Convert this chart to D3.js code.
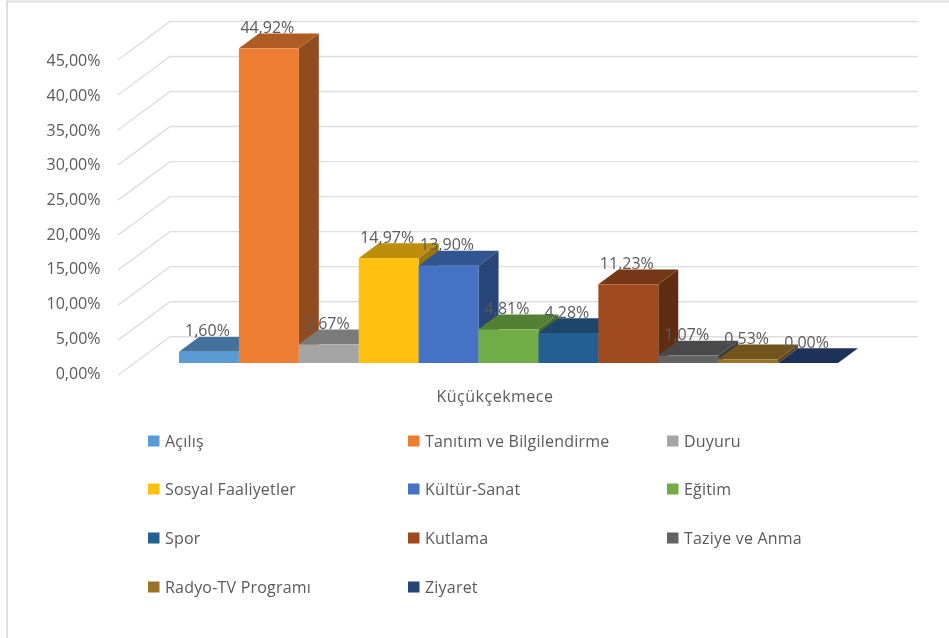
<!DOCTYPE html>
<html lang="tr"><head><meta charset="utf-8">
<script src="https://cdnjs.cloudflare.com/ajax/libs/d3/7.8.5/d3.min.js"></script>
<style>
html,body{margin:0;padding:0;background:#fff}
svg{display:block;filter:blur(0.45px)}
text{font-family:"Open Sans",sans-serif;fill:#5a5a5a}
</style></head><body><svg id="c" width="949" height="638"></svg>
<script>
const categories=["Açılış","Tanıtım ve Bilgilendirme","Duyuru","Sosyal Faaliyetler","Kültür-Sanat","Eğitim","Spor","Kutlama","Taziye ve Anma","Radyo-TV Programı","Ziyaret"];
const values=[1.60,44.92,2.67,14.97,13.90,4.81,4.28,11.23,1.07,0.53,0.00];
const colors=["#5B9BD5","#ED7D31","#A5A5A5","#FFC010","#4472C4","#70AD47","#255E91","#9E4A1E","#636363","#997326","#264478"];
const ticks=[0,5,10,15,20,25,30,35,40,45];
const groupLabel="Küçükçekmece";

const svg=d3.select("#c");
const fmt=v=>v.toFixed(2).replace(".",",")+"%";
const W={left:179,right:838,base:363,dx:20,dy:-14.8};
const y=d3.scaleLinear().domain([0,45]).range([W.base,W.base-315.2]);
const x=d3.scaleBand().domain(categories).range([W.left,W.right]);

// frame
svg.append("path").attr("d","M7,638V1.5H949").attr("fill","none").attr("stroke","#dedede").attr("stroke-width",2);

// back wall grid and side wall lines
const gridTop=v=>y(v)-26.3;
const grid=svg.append("g").attr("fill","none").attr("stroke","#dedede").attr("stroke-width",1.4);
grid.selectAll("path").data(ticks).join("path")
 .attr("d",d=>{
   const yb=gridTop(d), yf=yb+38.5;
   return `M118,${yf}L170,${yb}H918`;
 });

// y axis
const axis=d3.axisLeft(d3.scaleLinear().domain([0,45]).range([372.5,60])).tickValues(ticks).tickFormat(fmt).tickSize(0).tickPadding(0);
const ax=svg.append("g").attr("transform","translate(100.5,0)").call(axis);
ax.select(".domain").remove();
ax.selectAll("text").attr("font-size",16).attr("fill","#5f5f5f").style("font-family",'"Open Sans",sans-serif').attr("dy","0.35em");

// bars, painted left to right
const bars=svg.append("g").selectAll("g").data(categories).join("g");
bars.each(function(c,i){
  const g=d3.select(this), x0=x(c), x1=x0+x.bandwidth(), top=y(values[i]), base=W.base, col=d3.color(colors[i]);
  const {dx,dy}=W;
  g.append("path").attr("d",`M${x1},${top}L${x1+dx},${top+dy}V${base+dy}L${x1},${base}Z`).attr("fill",col.darker(1.4));
  g.append("path").attr("d",`M${x0},${top}L${x0+dx},${top+dy}H${x1+dx}L${x1},${top}Z`).attr("fill",col.darker(0.85));
  g.append("rect").attr("x",x0).attr("y",top).attr("width",x.bandwidth()).attr("height",base-top).attr("fill",colors[i]);
});

// data labels
svg.append("g").selectAll("text").data(categories).join("text")
 .attr("x",c=>x(c)+x.bandwidth()/2-1.5)
 .attr("y",(c,i)=>y(values[i])-15.5)
 .attr("text-anchor","middle").attr("font-size",16)
 .text((c,i)=>fmt(values[i]));

// category label
svg.append("text").attr("x",495).attr("y",402).attr("text-anchor","middle").attr("font-size",16).attr("letter-spacing",0.5).text(groupLabel);

// legend
const legX=[148,408,667], legY=[441,489,538,587];
const leg=svg.append("g").selectAll("g").data(categories).join("g")
 .attr("transform",(c,i)=>`translate(${legX[i%3]},${legY[Math.floor(i/3)]})`);
leg.append("rect").attr("x",0).attr("y",-5.5).attr("width",11.5).attr("height",11).attr("fill",(c,i)=>colors[i]);
leg.append("text").attr("x",17).attr("y",5.5).attr("font-size",16).attr("letter-spacing",0.2).text(c=>c);
</script></body></html>
